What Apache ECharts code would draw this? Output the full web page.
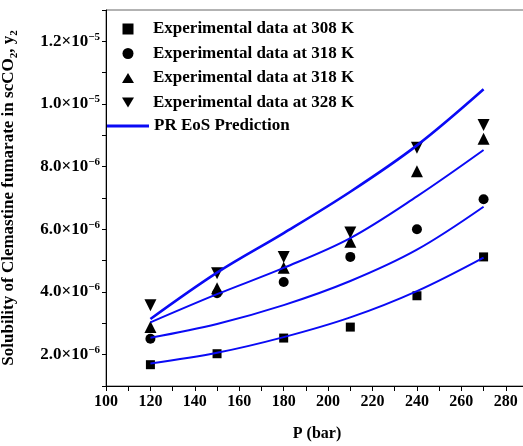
<!DOCTYPE html>
<html>
<head>
<meta charset="utf-8">
<script src="https://cdn.jsdelivr.net/npm/echarts@6/dist/echarts.min.js"></script>
<style>
  html, body { margin: 0; padding: 0; background: #fff; }
  #chart { width: 523px; height: 446px; }
</style>
</head>
<body>
<div id="chart"></div>
<script>
// Pressure (bar)
const pressures = [120, 150, 180, 210, 240, 270];

// Measured mole-fraction solubility
const exp308 = [1.68e-6, 2.03e-6, 2.53e-6, 2.88e-6, 3.88e-6, 5.12e-6];
const exp318a = [2.51e-6, 3.96e-6, 4.32e-6, 5.12e-6, 6.00e-6, 6.96e-6];
const exp318b = [2.88e-6, 4.12e-6, 4.77e-6, 5.60e-6, 7.85e-6, 8.89e-6];
const exp328 = [3.58e-6, 4.60e-6, 5.12e-6, 5.90e-6, 8.60e-6, 9.33e-6];

// Peng-Robinson EoS correlation curves
const pr308 = [1.72e-6, 2.06e-6, 2.56e-6, 3.19e-6, 4.03e-6, 5.10e-6];
const pr318a = [2.54e-6, 2.98e-6, 3.58e-6, 4.35e-6, 5.35e-6, 6.72e-6];
const pr318b = [3.03e-6, 3.93e-6, 4.77e-6, 5.72e-6, 7.05e-6, 8.53e-6];
const pr328 = [3.14e-6, 4.62e-6, 5.88e-6, 7.20e-6, 8.68e-6, 10.47e-6];

const legendNames = [
  'Experimental data at 308 K',
  'Experimental data at 318 K',
  'Experimental data at 318 K ',
  'Experimental data at 328 K',
  'PR EoS Prediction'
];

const FONT = '"Liberation Serif", "Times New Roman", serif';
const BLUE = '#0a0af5';

const pairs = (ys) => pressures.map((p, i) => [p, ys[i]]);

function scatter(name, ys, symbol, size, rotate) {
  return {
    name, type: 'scatter', data: pairs(ys), symbol, symbolSize: size,
    symbolRotate: rotate || 0,
    itemStyle: { color: '#000', opacity: 1 }, z: 2
  };
}
function curve(ys, width) {
  return {
    name: legendNames[4], type: 'line', data: pairs(ys), smooth: 0.35,
    symbol: 'none', lineStyle: { color: BLUE, width }, itemStyle: { color: BLUE }, z: 3
  };
}

const legendText = { fontFamily: FONT, fontWeight: 'bold', fontSize: 17, color: '#000', lineHeight: 18 };

const chart = echarts.init(document.getElementById('chart'), null, { renderer: 'canvas' });
chart.setOption({
  animation: false,
  backgroundColor: '#fff',
  grid: {
    left: 106, top: 10, right: -5, bottom: 60,
    outerBoundsMode: 'none', containLabel: false,
    show: true, borderColor: '#666', borderWidth: 1
  },
  legend: [
    {
      // marker entries
      orient: 'vertical', left: 122, top: 20, padding: 0,
      itemWidth: 12, itemHeight: 11, itemGap: 6.5,
      data: [
        { name: legendNames[0], icon: 'path://M0,0H10V10H0Z' },
        { name: legendNames[1], icon: 'circle' },
        { name: legendNames[2], icon: 'path://M6,0L12,10H0Z' },
        { name: legendNames[3], icon: 'path://M0,0H12L6,10Z' }
      ],
      itemStyle: { opacity: 1, color: '#000' },
      textStyle: Object.assign({ padding: [0, 0, 0, 14] }, legendText)
    },
    {
      // model curve entry
      orient: 'vertical', left: 107, top: 117, padding: 0,
      itemWidth: 42, itemHeight: 3,
      data: [{ name: legendNames[4], icon: 'rect' }],
      textStyle: legendText
    }
  ],
  xAxis: {
    type: 'value', min: 100, max: 290, interval: 10,
    name: 'P (bar)', nameLocation: 'middle', nameGap: 40,
    nameTextStyle: { fontFamily: FONT, fontWeight: 'bold', fontSize: 16, color: '#000' },
    axisLine: { lineStyle: { color: '#000', width: 1 } },
    axisTick: { inside: false, length: 5, lineStyle: { color: '#000' } },
    axisLabel: {
      margin: 8, fontFamily: FONT, fontWeight: 'bold', fontSize: 16, color: '#000',
      formatter: v => (v % 20 === 0 && v <= 280 ? String(v) : '')
    },
    splitLine: { show: false }
  },
  yAxis: {
    type: 'value', min: 1e-6, max: 1.3e-5, interval: 1e-6,
    name: '{t|Solubility of Clemastine fumarate in scCO}{b|2}{t|, y}{b|2}',
    nameLocation: 'middle', nameGap: 86,
    nameTextStyle: {
      rich: {
        t: { fontFamily: FONT, fontWeight: 'bold', fontSize: 17, color: '#000', lineHeight: 22 },
        b: { fontFamily: FONT, fontWeight: 'bold', fontSize: 11, color: '#000', verticalAlign: 'bottom', lineHeight: 22 }
      }
    },
    axisLine: { show: true, lineStyle: { color: '#000', width: 1 } },
    axisTick: { inside: false, length: 4, lineStyle: { color: '#000' } },
    axisLabel: {
      margin: 6,
      formatter: v => {
        const n = Math.round(v * 1e6);
        if (n % 2 !== 0) return '';
        const e = n >= 10 ? 5 : 6;
        const m = n >= 10 ? n / 10 : n;
        return '{m|' + m.toFixed(1) + '×10}{s|−' + e + '}';
      },
      rich: {
        m: { fontFamily: FONT, fontWeight: 'bold', fontSize: 17, color: '#000', lineHeight: 20 },
        s: { fontFamily: FONT, fontWeight: 'bold', fontSize: 11, color: '#000', verticalAlign: 'top', lineHeight: 20 }
      }
    },
    splitLine: { show: false }
  },
  series: [
    scatter(legendNames[0], exp308, 'rect', 9),
    scatter(legendNames[1], exp318a, 'circle', 10),
    scatter(legendNames[2], exp318b, 'triangle', 12),
    scatter(legendNames[3], exp328, 'triangle', 12, 180),
    curve(pr308, 2),
    curve(pr318a, 2),
    curve(pr318b, 2),
    curve(pr328, 2.6)
  ]
});
</script>
</body>
</html>
